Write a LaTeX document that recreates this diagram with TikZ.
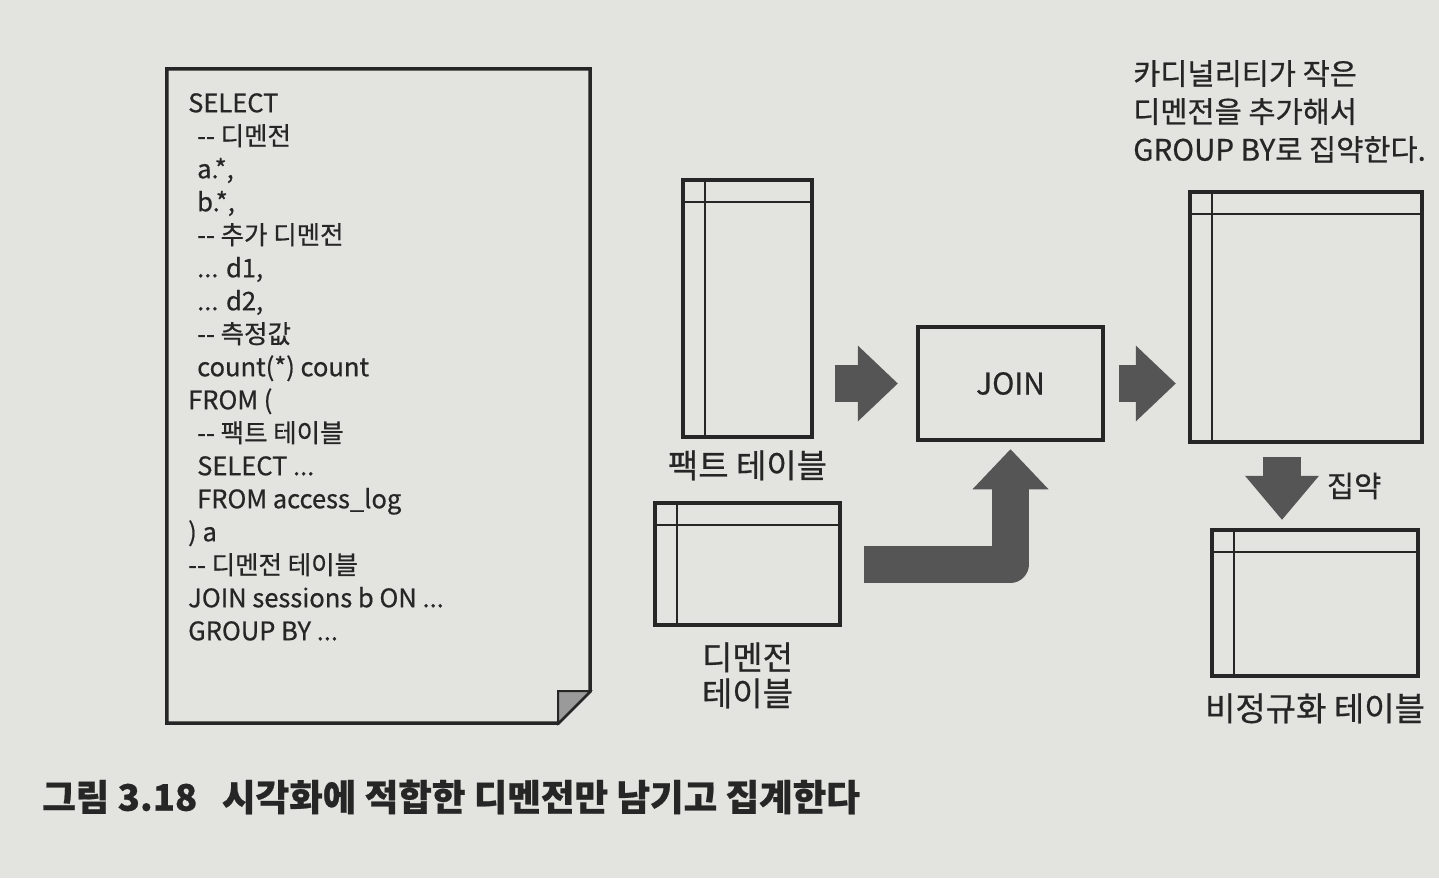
\documentclass[tikz,border=0pt]{standalone}
\usepackage{fontspec}
\setmainfont{Noto Sans CJK KR}[FakeBold=0.6]
\usepackage{tikz}
\usetikzlibrary{positioning,arrows.meta,calc}
\definecolor{bg}{HTML}{E3E3E0}
\definecolor{ink}{HTML}{262626}
\definecolor{arrowgray}{HTML}{555555}
\definecolor{flapgray}{HTML}{9A9A9A}
\newcommand\codeind{\hspace*{9pt}}
\tikzset{
  sheet/.style   ={minimum width=423pt, minimum height=654pt, inner sep=0pt},
  code/.style    ={font=\fontsize{25.5}{33}\selectfont, text=ink, align=left, inner sep=0pt},
  tbl/.style     ={draw=ink, line width=4.5pt, inner sep=0pt,
                   path picture={
                     \draw[ink, line width=2.8pt]
                       ([yshift=-22pt]path picture bounding box.north west) -- ([yshift=-22pt]path picture bounding box.north east)
                       ([xshift=22pt]path picture bounding box.north west) -- ([xshift=22pt]path picture bounding box.south west);
                   }},
  joinbox/.style ={draw=ink, line width=4.5pt, font=\fontsize{30}{34}\selectfont, text=ink},
  lbl/.style     ={font=\fontsize{33}{36}\selectfont, text=ink, align=center, inner sep=0pt},
  note/.style    ={font=\fontsize{29.5}{38}\selectfont, text=ink, align=left, inner sep=0pt},
  blockarr/.style={draw=arrowgray, line width=37pt, line join=round,
                   -{Triangle[length=40pt, width=76pt, line width=0pt]}},
}

\begin{document}
\begin{tikzpicture}[x=1pt, y=-1pt]
\useasboundingbox (0,0) rectangle (1439,878);
\fill[bg] (0,0) rectangle (1439,878);

% SQL sheet with folded corner
\node[sheet] (page) at (378.5,396) {};
\draw[ink, line width=3.5pt] (page.north west) -- (page.north east) -- ([yshift=32pt]page.south east)
  -- ([xshift=-32pt]page.south east) -- (page.south west) -- cycle;
\filldraw[fill=flapgray, draw=ink, line width=2pt] ([yshift=32pt]page.south east)
  -- ([xshift=-32pt,yshift=32pt]page.south east) -- ([xshift=-32pt]page.south east) -- cycle;
\node[code, anchor=north west] (sql) at (188,93) {SELECT\\
\codeind -{}- 디멘전\\
\codeind a.*,\\
\codeind b.*,\\
\codeind -{}- 추가 디멘전\\
\codeind ... d1,\\
\codeind ... d2,\\
\codeind -{}- 측정값\\
\codeind count(*) count\\
FROM (\\
\codeind -{}- 팩트 테이블\\
\codeind SELECT ...\\
\codeind FROM access\_log\\
) a\\
-{}- 디멘전 테이블\\
JOIN sessions b ON ...\\
GROUP BY ...};

% tables
\node[tbl, minimum width=129pt, minimum height=257pt] (fact) at (747.5,308.5) {};
\node[lbl, below=11pt of fact] (factlbl) {팩트 테이블};
\node[tbl, minimum width=185pt, minimum height=122pt] (dim) at (747.5,564) {};
\node[lbl, below=15pt of dim] (dimlbl) {디멘전\\테이블};
\node[joinbox, minimum width=185pt, minimum height=113pt] (join) at (1010.5,383.5) {JOIN};
\node[tbl, minimum width=232pt, minimum height=250pt] (result) at (1306,317) {};
\node[note, anchor=north west] (resnote) at (1133,60) {카디널리티가 작은\\디멘전을 추가해서\\GROUP BY로 집약한다.};
\node[tbl, minimum width=206pt, minimum height=146pt] (denorm) at (1315,603) {};
\node[lbl, below=15pt of denorm] (denormlbl) {비정규화 테이블};

% arrows
\draw[blockarr, shorten <=21pt, shorten >=18pt] (fact.east|-join.west) -- (join.west);
\draw[blockarr, shorten <=22pt, shorten >=7pt] (dim.east) -| (join.south);
\draw[blockarr, shorten <=14pt, shorten >=12pt] (join.east) -- (join.east-|result.west);
\draw[blockarr, line width=38pt, -{Triangle[length=44pt, width=74pt, line width=0pt]}, shorten <=13pt, shorten >=8pt]
  ([xshift=-24pt]result.south) -- node[note, right=26pt] (aggr) {집약} ([xshift=-24pt]result.south|-denorm.north);

% caption
\node[anchor=west, inner sep=0pt, text=ink, font=\fontsize{36.5}{40}\selectfont\bfseries] (caption) at (42,797)
  {그림 3.18\hspace{0.45em} 시각화에 적합한 디멘전만 남기고 집계한다};
\end{tikzpicture}
\end{document}
